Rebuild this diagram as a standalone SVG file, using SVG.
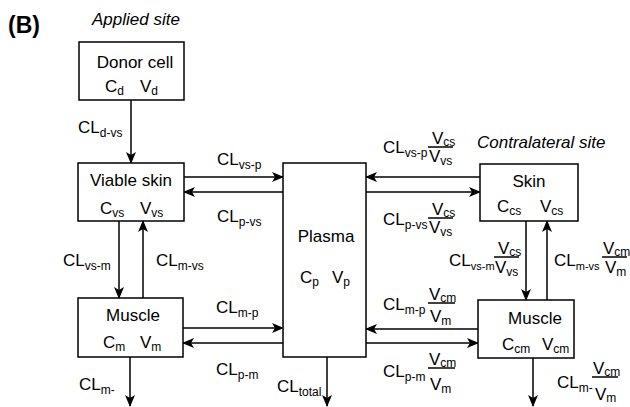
<svg xmlns="http://www.w3.org/2000/svg" width="630" height="407" viewBox="0 0 630 407">
<style>
text{font-family:"Liberation Sans",Arial,sans-serif;font-size:17px;fill:#000}
.sub{font-size:12px}
.sm{font-size:11px}
.it{font-style:italic}
.box{fill:#fff;stroke:#000;stroke-width:1.5}
.ln{stroke:#000;stroke-width:1.5;fill:none}
.arr{stroke:#000;stroke-width:1.5;fill:none;marker-end:url(#ah)}
.mid{text-anchor:middle}
</style>
<defs>
<marker id="ah" markerUnits="userSpaceOnUse" markerWidth="12" markerHeight="10" refX="11" refY="5" orient="auto">
<path d="M0,0 L12,5 L0,10 L3,5 z" fill="#000"/>
</marker>
</defs>
<text x="8" y="33" style="font-weight:bold;font-size:23px">(B)</text>
<text x="92" y="25" class="it">Applied site</text>
<text x="477" y="148" class="it">Contralateral site</text>

<g id="connectors">
<line class="arr" x1="131" y1="100" x2="131" y2="163"/>
<line class="arr" x1="184" y1="177" x2="283" y2="177"/>
<line class="arr" x1="283" y1="192" x2="184" y2="192"/>
<line class="arr" x1="119" y1="221" x2="119" y2="298"/>
<line class="arr" x1="143" y1="298" x2="143" y2="221"/>
<line class="arr" x1="183" y1="328" x2="283" y2="328"/>
<line class="arr" x1="283" y1="343" x2="183" y2="343"/>
<line class="arr" x1="130" y1="357" x2="130" y2="406"/>
<line class="arr" x1="327" y1="357" x2="327" y2="406"/>
<line class="arr" x1="480" y1="177" x2="366" y2="177"/>
<line class="arr" x1="366" y1="192" x2="480" y2="192"/>
<line class="arr" x1="526" y1="221" x2="526" y2="300"/>
<line class="arr" x1="547" y1="300" x2="547" y2="221"/>
<line class="arr" x1="478" y1="329" x2="366" y2="329"/>
<line class="arr" x1="366" y1="343" x2="478" y2="343"/>
<line class="arr" x1="533" y1="358" x2="533" y2="406"/>

<text x="78" y="133">CL<tspan class="sub" dy="4">d-vs</tspan></text>
<text x="217" y="165">CL<tspan class="sub" dy="4">vs-p</tspan></text>
<text x="217" y="222">CL<tspan class="sub" dy="4">p-vs</tspan></text>
<text x="63" y="266">CL<tspan class="sub" dy="4">vs-m</tspan></text>
<text x="156" y="266">CL<tspan class="sub" dy="4">m-vs</tspan></text>
<text x="216" y="313">CL<tspan class="sub" dy="4">m-p</tspan></text>
<text x="216" y="375">CL<tspan class="sub" dy="4">p-m</tspan></text>
<text x="79" y="390">CL<tspan class="sub" dy="4">m-</tspan></text>
<text x="277" y="392">CL<tspan class="sub" dy="4">total</tspan></text>

<text x="383" y="153">CL<tspan class="sub" dy="4">vs-p</tspan></text>
<line class="ln" x1="428" y1="147" x2="453" y2="147"/>
<text x="432" y="144">V<tspan class="sub" dy="2">cs</tspan></text>
<text x="429" y="162">V<tspan class="sub" dy="3">vs</tspan></text>

<text x="383" y="225">CL<tspan class="sub" dy="4">p-vs</tspan></text>
<line class="ln" x1="428" y1="218" x2="453" y2="218"/>
<text x="432" y="215">V<tspan class="sub" dy="2">cs</tspan></text>
<text x="429" y="233">V<tspan class="sub" dy="3">vs</tspan></text>

<text x="449" y="266">CL<tspan class="sm" dy="4">vs-m</tspan></text>
<line class="ln" x1="494" y1="257" x2="519" y2="257"/>
<text x="498" y="254">V<tspan class="sub" dy="2">cs</tspan></text>
<text x="495" y="273">V<tspan class="sub" dy="3">vs</tspan></text>

<text x="554" y="266">CL<tspan class="sm" dy="4">m-vs</tspan></text>
<line class="ln" x1="602" y1="257" x2="627" y2="257"/>
<text x="603" y="254">V<tspan class="sub" dy="2">cm</tspan></text>
<text x="605" y="273">V<tspan class="sub" dy="3">m</tspan></text>

<text x="383" y="310">CL<tspan class="sub" dy="4">m-p</tspan></text>
<line class="ln" x1="428" y1="303" x2="455" y2="303"/>
<text x="429" y="300">V<tspan class="sub" dy="2">cm</tspan></text>
<text x="430" y="322">V<tspan class="sub" dy="3">m</tspan></text>

<text x="383" y="377">CL<tspan class="sub" dy="4">p-m</tspan></text>
<line class="ln" x1="428" y1="368" x2="455" y2="368"/>
<text x="429" y="365">V<tspan class="sub" dy="2">cm</tspan></text>
<text x="430" y="390">V<tspan class="sub" dy="3">m</tspan></text>

<text x="557" y="388">CL<tspan class="sub" dy="4">m-</tspan></text>
<line class="ln" x1="592" y1="377" x2="618" y2="377"/>
<text x="593" y="374">V<tspan class="sub" dy="2">cm</tspan></text>
<text x="595" y="400">V<tspan class="sub" dy="2">m</tspan></text>
</g>

<g id="donor">
<rect class="box" x="79" y="42" width="105" height="58"/>
<text x="135" y="68" class="mid">Donor cell</text>
<text x="105" y="92">C<tspan class="sub" dy="3">d</tspan></text>
<text x="140" y="92">V<tspan class="sub" dy="3">d</tspan></text>
</g>

<g id="viable-skin">
<rect class="box" x="78" y="163" width="106" height="58"/>
<text x="131" y="186" class="mid">Viable skin</text>
<text x="100" y="214">C<tspan class="sub" dy="3">vs</tspan></text>
<text x="140" y="214">V<tspan class="sub" dy="3">vs</tspan></text>
</g>

<g id="muscle-applied">
<rect class="box" x="78" y="298" width="105" height="59"/>
<text x="133" y="321" class="mid">Muscle</text>
<text x="103" y="348">C<tspan class="sub" dy="3">m</tspan></text>
<text x="140" y="348">V<tspan class="sub" dy="3">m</tspan></text>
</g>

<g id="plasma">
<rect class="box" x="283" y="163" width="83" height="194"/>
<text x="326" y="242" class="mid">Plasma</text>
<text x="300" y="283">C<tspan class="sub" dy="3">p</tspan></text>
<text x="332" y="283">V<tspan class="sub" dy="3">p</tspan></text>
</g>

<g id="skin-contra">
<rect class="box" x="480" y="164" width="98" height="57"/>
<text x="529" y="187" class="mid">Skin</text>
<text x="497" y="212">C<tspan class="sub" dy="3">cs</tspan></text>
<text x="540" y="212">V<tspan class="sub" dy="3">cs</tspan></text>
</g>

<g id="muscle-contra">
<rect class="box" x="478" y="300" width="96" height="58"/>
<text x="535" y="324" class="mid">Muscle</text>
<text x="502" y="350">C<tspan class="sub" dy="3">cm</tspan></text>
<text x="542" y="350">V<tspan class="sub" dy="3">cm</tspan></text>
</g>
</svg>
